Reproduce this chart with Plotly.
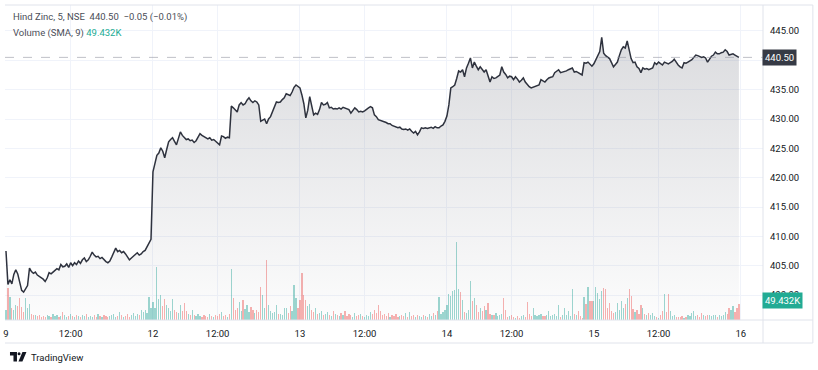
import plotly.graph_objects as go

# ---------------- data (5-minute bars, 75 per session) ----------------
session_labels = ["9", "12", "13", "14", "15", "16"]
noon_label = "12:00"

close_d09 = [407.5, 401.8, 402.6, 401.9, 403.5, 404.3, 403.6, 402.0, 400.8, 400.5,
             401.0, 401.6, 404.6, 404.0, 403.7, 403.9, 403.4, 403.2, 402.9, 402.7,
             402.3, 402.9, 403.8, 403.6, 403.9, 404.2, 404.5, 404.3, 405.2, 404.8,
             404.9, 405.3, 404.7, 405.5, 405.0, 405.5, 405.2, 405.8, 405.4, 406.0,
             406.3, 405.7, 406.0, 406.6, 407.3, 406.8, 406.5, 406.6, 406.2, 406.4,
             406.0, 405.7, 405.5, 405.8, 406.5, 407.2, 408.0, 407.4, 407.6, 407.2,
             407.4, 407.0, 406.5, 406.0, 406.3, 406.7, 406.9, 407.2, 406.8, 407.0,
             407.4, 407.6, 408.3, 409.0, 409.5]
close_d12 = [421.0, 422.5, 423.8, 424.2, 425.1, 424.5, 423.4, 424.8, 426.1, 426.5,
             426.8, 426.2, 425.6, 426.7, 427.8, 427.2, 426.8, 426.5, 426.6, 426.3,
             426.4, 426.0, 426.3, 426.9, 427.5, 427.2, 427.0, 426.7, 426.6, 426.8,
             426.4, 426.5, 426.2, 425.9, 425.6, 427.1, 427.0, 426.7, 426.9, 426.8,
             432.2, 431.9, 431.6, 431.2, 432.4, 432.8, 432.4, 432.6, 433.2, 433.6,
             433.1, 432.8, 433.1, 432.9, 432.4, 429.6, 429.8, 430.0, 429.2, 430.0,
             430.4, 431.2, 432.0, 432.9, 432.8, 432.9, 433.3, 433.6, 434.3, 434.1,
             434.0, 434.6, 435.4, 435.8, 435.5]
close_d13 = [435.3, 434.1, 432.6, 430.2, 431.5, 433.8, 432.0, 430.7, 431.0, 430.8,
             431.6, 432.8, 432.4, 432.5, 432.8, 431.9, 432.0, 431.7, 431.8, 431.7,
             431.9, 431.7, 432.0, 431.9, 431.7, 431.6, 431.0, 431.5, 431.9, 431.6,
             431.2, 431.3, 431.2, 431.4, 431.7, 431.9, 432.1, 431.9, 430.7, 430.4,
             429.9, 429.8, 429.6, 429.5, 429.4, 429.2, 429.2, 428.9, 428.8, 428.7,
             428.5, 428.6, 428.3, 428.2, 428.3, 428.1, 428.3, 427.9, 427.6, 427.9,
             427.3, 427.8, 428.5, 428.4, 428.5, 428.4, 428.5, 428.6, 428.4, 428.7,
             428.5, 428.5, 428.8, 429.0, 429.6]
close_d14 = [430.5, 432.4, 435.3, 435.5, 435.8, 436.9, 438.2, 438.0, 438.4, 437.2,
             438.7, 439.5, 440.4, 438.7, 439.7, 439.0, 438.4, 438.9, 438.5, 438.0,
             438.4, 437.5, 436.3, 437.2, 436.9, 437.0, 437.2, 437.5, 438.9, 438.0,
             437.6, 437.0, 437.3, 437.2, 436.7, 437.2, 436.8, 436.3, 436.6, 437.0,
             436.3, 435.8, 435.5, 435.3, 435.4, 435.5, 435.6, 435.8, 436.7, 436.5,
             436.3, 436.7, 437.0, 437.1, 437.2, 437.9, 438.1, 438.4, 437.9, 438.0,
             438.0, 438.2, 438.4, 438.5, 438.7, 438.0, 438.1, 437.9, 437.7, 437.5,
             439.6, 439.5, 439.7, 439.4, 439.0]
close_d15 = [439.4, 440.2, 440.9, 441.5, 443.9, 441.2, 440.8, 440.5, 440.3, 439.6,
             438.9, 439.3, 439.7, 440.8, 441.8, 442.3, 442.1, 443.3, 441.5, 440.3,
             439.6, 439.7, 438.9, 438.6, 437.9, 438.7, 438.5, 438.6, 438.4, 438.5,
             438.7, 439.6, 439.3, 439.7, 439.5, 439.2, 439.7, 439.5, 439.4, 439.6,
             439.8, 440.2, 439.6, 439.2, 438.9, 438.7, 439.6, 439.5, 439.7, 439.9,
             440.1, 440.5, 440.9, 440.8, 440.6, 440.5, 440.6, 440.4, 439.7, 440.2,
             440.7, 440.9, 441.4, 441.1, 441.1, 441.3, 441.4, 441.8, 441.5, 440.9,
             441.0, 441.1, 440.9, 440.7, 440.5]

# volume in thousands
vol_d09 = [30, 96, 69, 36, 30, 45, 42, 66, 39, 24, 66, 36, 48, 18, 15, 15, 12, 15, 9, 12,
           9, 15, 12, 9, 18, 12, 15, 9, 12, 24, 15, 9, 12, 18, 12, 9, 15, 12, 9, 15,
           12, 18, 9, 12, 9, 15, 9, 18, 12, 9, 15, 12, 9, 12, 15, 18, 9, 12, 24, 15,
           9, 12, 18, 9, 15, 21, 12, 18, 15, 30, 24, 30, 21, 69, 36]
vol_d12 = [54, 36, 159, 63, 75, 42, 63, 45, 36, 27, 63, 30, 24, 21, 45, 27, 51, 27, 18, 15,
           30, 15, 12, 18, 12, 9, 15, 12, 9, 18, 12, 9, 15, 12, 18, 24, 12, 15, 9, 18,
           153, 66, 30, 36, 54, 27, 60, 33, 45, 24, 39, 30, 21, 30, 24, 99, 75, 36, 180, 45,
           27, 21, 24, 45, 18, 18, 15, 36, 36, 21, 42, 27, 105, 66, 36]
vol_d13 = [60, 141, 75, 60, 42, 48, 30, 24, 36, 18, 21, 27, 15, 18, 24, 15, 12, 27, 18, 15,
           12, 21, 15, 27, 12, 18, 15, 9, 21, 12, 15, 18, 12, 9, 15, 12, 24, 18, 30, 21,
           45, 27, 15, 18, 12, 21, 9, 15, 12, 18, 9, 12, 15, 12, 21, 9, 24, 12, 15, 9,
           15, 12, 9, 15, 12, 9, 18, 12, 21, 15, 27, 69, 18, 24, 30]
vol_d14 = [45, 78, 72, 87, 90, 234, 93, 84, 60, 24, 21, 30, 117, 57, 66, 45, 24, 36, 27, 42,
           30, 51, 18, 15, 15, 21, 12, 15, 18, 66, 30, 9, 12, 15, 9, 6, 12, 6, 12, 15,
           9, 54, 18, 12, 36, 15, 12, 15, 18, 12, 12, 15, 27, 12, 15, 18, 12, 45, 9, 15,
           36, 15, 27, 12, 93, 18, 15, 27, 12, 6, 69, 48, 99, 57, 57]
vol_d15 = [57, 99, 81, 63, 87, 96, 93, 36, 51, 27, 21, 24, 51, 30, 57, 36, 48, 66, 93, 72,
           33, 24, 30, 18, 45, 36, 18, 15, 21, 15, 21, 12, 9, 6, 15, 27, 78, 24, 78, 27,
           12, 15, 9, 9, 9, 12, 6, 9, 15, 12, 21, 27, 12, 15, 9, 21, 15, 12, 15, 15,
           12, 15, 15, 9, 15, 12, 15, 24, 18, 36, 30, 42, 24, 36, 49.432]

legend_title = "Hind Zinc, 5, NSE"
last_price = 440.50
change_text = "−0.05 (−0.01%)"
volume_title = "Volume (SMA, 9)"
volume_value = "49.432K"
price_ticks = [400, 405, 410, 415, 420, 425, 430, 435, 440, 445]
hidden_price_ticks = [440]  # covered by the last-price label in the reference

# ---------------- build ----------------
closes = close_d09 + close_d12 + close_d13 + close_d14 + close_d15
vols = vol_d09 + vol_d12 + vol_d13 + vol_d14 + vol_d15
n = len(closes)
xs = list(range(n))
BARS = 75
NOON = 33

up = [True] + [closes[i] >= closes[i - 1] for i in range(1, n)]
bar_colors = ["rgba(38,166,154,0.45)" if u else "rgba(239,83,80,0.45)" for u in up]

tickvals, ticktext = [], []
for k, lab in enumerate(session_labels):
    tickvals.append(k * BARS)
    ticktext.append(lab)
    if k < len(session_labels) - 1:
        tickvals.append(k * BARS + NOON)
        ticktext.append(noon_label)

price_ticktext = ["" if v in hidden_price_ticks else f"{v:.2f}" for v in price_ticks]

W, H = 818, 370
L, R, T, B = 3, 55, 5, 50
PW, PH = W - L - R, H - T - B
PRICE_RANGE = [395.74, 449.43]


def px(x):
    return (x - L) / PW


def py(y):
    return (H - B - y) / PH


FONT = "Roboto, 'Open Sans', sans-serif"
TXT = "#131722"
GRID = "#f0f3fa"
BORDER = "#e0e3eb"

fig = go.Figure()
fig.add_trace(go.Bar(x=xs, y=vols, marker=dict(color=bar_colors, line=dict(width=0)),
                     width=0.62, yaxis="y", hoverinfo="skip", showlegend=False))
fig.add_trace(go.Scatter(
    x=xs, y=closes, yaxis="y2", mode="lines",
    line=dict(color="#2e323e", width=1.5),
    fill="tozeroy",
    fillgradient=dict(type="vertical", start=PRICE_RANGE[0], stop=445,
                      colorscale=[[0, "rgba(120,123,134,0.02)"],
                                  [1, "rgba(120,123,134,0.27)"]]),
    showlegend=False))

shapes = [
    dict(type="line", xref="paper", yref="y2", x0=0, x1=1, y0=last_price, y1=last_price,
         line=dict(color="rgba(149,152,161,0.6)", width=1, dash="dash")),
    # frame
    dict(type="line", xref="paper", yref="paper", x0=px(3), x1=px(813), y0=py(5), y1=py(5),
         line=dict(color=BORDER, width=1)),
    dict(type="line", xref="paper", yref="paper", x0=px(3), x1=px(813), y0=py(343), y1=py(343),
         line=dict(color=BORDER, width=1)),
    dict(type="line", xref="paper", yref="paper", x0=px(3), x1=px(813), y0=py(320), y1=py(320),
         line=dict(color=BORDER, width=1)),
    dict(type="line", xref="paper", yref="paper", x0=px(763), x1=px(763), y0=py(5), y1=py(343),
         line=dict(color=BORDER, width=1)),
    dict(type="line", xref="paper", yref="paper", x0=px(813), x1=px(813), y0=py(5), y1=py(343),
         line=dict(color=BORDER, width=1)),
    # TradingView logo
    dict(type="path", xref="paper", yref="paper",
         path=(f"M {px(8)},{py(352)} L {px(15)},{py(352)} L {px(15)},{py(361.5)} "
               f"L {px(11.5)},{py(361.5)} L {px(11.5)},{py(355.5)} L {px(8)},{py(355.5)} Z"),
         fillcolor=TXT, line=dict(width=0)),
    dict(type="circle", xref="paper", yref="paper",
         x0=px(15.6), x1=px(18.6), y0=py(352.2), y1=py(355.2),
         fillcolor=TXT, line=dict(width=0)),
    dict(type="path", xref="paper", yref="paper",
         path=(f"M {px(20.5)},{py(352)} L {px(24.5)},{py(352)} L {px(20.5)},{py(361.5)} "
               f"L {px(16.5)},{py(361.5)} Z"),
         fillcolor=TXT, line=dict(width=0)),
]

annotations = [
    dict(xref="paper", yref="paper", x=px(9), y=py(17), xanchor="left", yanchor="middle",
         text=f"{legend_title}&nbsp;&nbsp;{last_price:.2f}&nbsp;&nbsp;{change_text}",
         showarrow=False, font=dict(family=FONT, size=9.5, color="#4a4d57")),
    dict(xref="paper", yref="paper", x=px(9), y=py(33), xanchor="left", yanchor="middle",
         text=f"{volume_title} <span style='color:#22ab94'>{volume_value}</span>",
         showarrow=False, font=dict(family=FONT, size=9.5, color="#4a4d57")),
    dict(xref="paper", yref="y2", x=px(762), y=last_price, xanchor="left", yanchor="middle",
         text=f"{last_price:.2f}", showarrow=False, bgcolor="#363a45", borderpad=2,
         font=dict(family=FONT, size=9.5, color="white")),
    dict(xref="paper", yref="paper", x=px(762), y=py(300), xanchor="left", yanchor="middle",
         text=volume_value, showarrow=False, bgcolor="#22ab94", borderpad=2,
         font=dict(family=FONT, size=9.5, color="white")),
    dict(xref="paper", yref="paper", x=px(27), y=py(357), xanchor="left", yanchor="middle",
         text="TradingView", showarrow=False,
         font=dict(family=FONT, size=9.5, color=TXT)),
]

fig.update_layout(
    width=W, height=H,
    margin=dict(l=L, r=R, t=T, b=B),
    paper_bgcolor="white", plot_bgcolor="white",
    font=dict(family=FONT, size=9.5, color=TXT),
    showlegend=False,
    bargap=0,
    hovermode=False,
    xaxis=dict(range=[-0.5, 386.3], tickvals=tickvals, ticktext=ticktext,
               showgrid=True, gridcolor=GRID, gridwidth=1, zeroline=False,
               showline=False, ticks="", ticklabelstandoff=6,
               tickfont=dict(family=FONT, size=9.5, color=TXT)),
    yaxis=dict(range=[0, 945], visible=False, showgrid=False, zeroline=False),
    yaxis2=dict(overlaying="y", side="right", range=PRICE_RANGE, tickvals=price_ticks,
                ticktext=price_ticktext, showgrid=True, gridcolor=GRID, gridwidth=1,
                zeroline=False, showline=False, ticks="", ticklabelstandoff=6,
                tickfont=dict(family=FONT, size=9.5, color=TXT)),
    shapes=shapes,
    annotations=annotations,
)

fig.write_html("out.html", config={"displayModeBar": False, "staticPlot": True},
               post_script="document.body.style.margin='0';document.body.style.overflow='hidden';")
